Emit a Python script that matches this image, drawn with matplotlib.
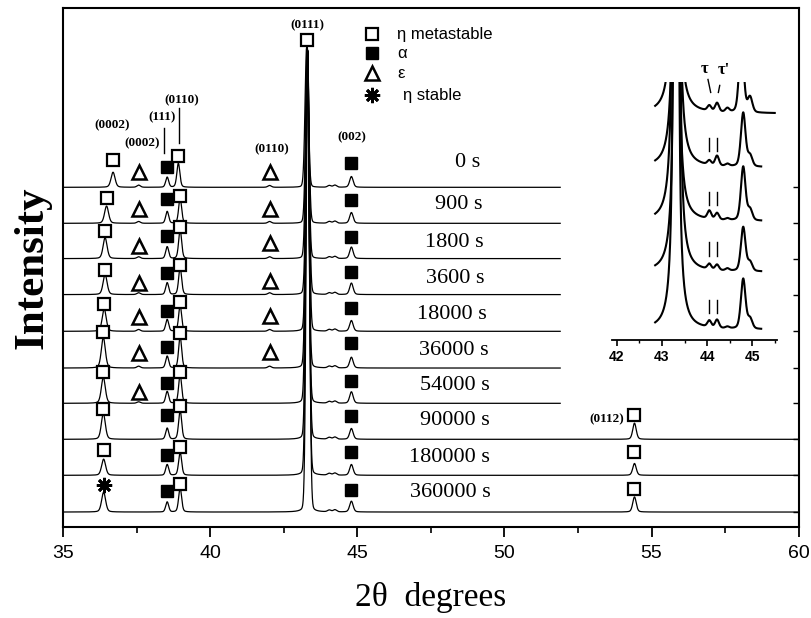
import numpy as np
import matplotlib.pyplot as plt
from matplotlib.ticker import MultipleLocator

# ---- data ----
times = ['0 s', '900 s', '1800 s', '3600 s', '18000 s', '36000 s',
         '54000 s', '90000 s', '180000 s', '360000 s']
baselines = [9.44, 8.44, 7.46, 6.46, 5.44, 4.42, 3.44, 2.44, 1.44, 0.42]
x_end = [51.9, 51.9, 51.9, 51.9, 51.9, 51.9, 51.9, 60.0, 60.0, 60.0]
label_x = [48.74, 48.44, 48.30, 48.33, 48.23, 48.27, 48.30, 48.33, 48.13, 48.16]
label_dy = [0.70, 0.53, 0.46, 0.46, 0.48, 0.50, 0.50, 0.53, 0.50, 0.55]

# eta metastable (0002)
eta0002_x = [36.70, 36.48, 36.43, 36.43, 36.40, 36.37, 36.37, 36.37, 36.38, 36.38]
eta0002_h = [0.42, 0.48, 0.58, 0.56, 0.62, 0.85, 0.72, 0.72, 0.45, 0.55]
eta0002_m = [0.75, 0.69, 0.78, 0.69, 0.75, 1.00, 0.86, 0.83, 0.69, 0.75]
# epsilon (0002)
eps0002_x = 37.57
eps0002_h = [0.06, 0.05, 0.05, 0.05, 0.05, 0.05, 0.04, 0.0, 0.0, 0.0]
eps0002_m = [0.42, 0.39, 0.36, 0.33, 0.39, 0.42, 0.31]
# alpha (111)
a111_x = 38.54
a111_h = [0.28, 0.33, 0.33, 0.33, 0.33, 0.33, 0.33, 0.31, 0.30, 0.28]
a111_m = [0.56, 0.67, 0.64, 0.61, 0.56, 0.58, 0.56, 0.67, 0.56, 0.58]
# eta metastable (0110)
eta0110_x = [38.92, 38.98, 38.98, 38.98, 38.98, 38.98, 38.98, 38.98, 38.98, 38.98]
eta0110_h = [0.67, 0.70, 0.80, 0.75, 0.72, 0.88, 0.80, 0.82, 0.65, 0.67]
eta0110_m = [0.86, 0.75, 0.89, 0.83, 0.81, 0.97, 0.86, 0.92, 0.78, 0.78]
# epsilon (0110)
eps0110_x = 42.02
eps0110_h = [0.05, 0.05, 0.05, 0.05, 0.05, 0.05, 0.0, 0.0, 0.0, 0.0]
eps0110_m = [0.42, 0.39, 0.42, 0.39, 0.42, 0.44]
# eta metastable (0111) main peak
eta0111_x = [43.28, 43.30, 43.30, 43.31, 43.31, 43.30, 43.30, 43.31, 43.31, 43.32]
eta0111_h = [3.9, 4.9, 5.8, 6.8, 7.8, 8.8, 9.8, 10.8, 11.8, 12.8]
# tau, tau'
tau_x = [44.05, 44.24]
tau_h = [0.05, 0.06]
# alpha (002)
a002_x = 44.80
a002_h = [0.30, 0.30, 0.32, 0.32, 0.30, 0.30, 0.32, 0.30, 0.30, 0.30]
a002_m = [0.67, 0.64, 0.61, 0.64, 0.64, 0.69, 0.61, 0.64, 0.64, 0.61]
# eta metastable (0112), last three traces
eta0112_x = 54.42
eta0112_h = [0.45, 0.33, 0.42]
eta0112_m = [0.67, 0.64, 0.64]

# inset (42-45.5 degrees, enlarged)
in_base = [4.20, 3.20, 2.20, 1.26, 0.19]
in_start = [42.85, 42.85, 42.85, 42.85, 42.85]
in_end = [45.50, 45.20, 45.20, 45.20, 45.20]
in_main_x = [43.30, 43.32, 43.30, 43.33, 43.31]
in_tau_h = [0.10, 0.08, 0.15, 0.10, 0.12]
in_taup_h = [0.16, 0.18, 0.12, 0.10, 0.15]
in_small_h = [0.07, 0.04, 0.03, 0.04, 0.03]
in_a_x = [44.76, 44.80, 44.80, 44.80, 44.80]
in_a_h = [1.40, 1.00, 1.00, 0.82, 0.93]


def peak(x, c, h, w=0.07, eta=0.2):
    g = np.exp(-np.log(2) * ((x - c) / w) ** 2)
    l = 1.0 / (1.0 + ((x - c) / w) ** 2)
    return h * ((1 - eta) * g + eta * l)


fig = plt.figure(figsize=(8.12, 6.18), dpi=100)
ax = fig.add_axes([0.0776, 0.147, 0.906, 0.840])
ax.set_xlim(35, 60)
ax.set_ylim(0, 14.42)

for k in range(10):
    x = np.arange(35, x_end[k], 0.005)
    y = np.full_like(x, baselines[k])
    y += peak(x, eta0002_x[k], eta0002_h[k], 0.08, 0.3)
    y += peak(x, eps0002_x, eps0002_h[k])
    y += peak(x, a111_x, a111_h[k], 0.06)
    y += peak(x, eta0110_x[k], eta0110_h[k], 0.06, 0.3)
    y += peak(x, eps0110_x, eps0110_h[k])
    y += peak(x, eta0111_x[k], eta0111_h[k], 0.065, 0.08)
    for tx, th in zip(tau_x, tau_h):
        y += peak(x, tx, th)
    y += peak(x, a002_x, a002_h[k], 0.07, 0.3)
    if k >= 7:
        y += peak(x, eta0112_x, eta0112_h[k - 7], 0.07, 0.3)
    ax.plot(x, y, color='black', lw=0.9)

# markers
sq = dict(marker='s', ms=9, mfc='white', mec='black', mew=1.6, ls='none')
fs = dict(marker='s', ms=9, mfc='black', mec='black', ls='none')
tr = dict(marker='^', ms=10, mfc='white', mec='black', mew=1.8, ls='none')
st = dict(marker=(8, 2, 0), ms=11, color='black', mew=2.0, ls='none')

for k in range(10):
    b = baselines[k]
    ax.plot(eta0002_x[k], b + eta0002_m[k], **(sq if k < 9 else st))
    if k < len(eps0002_m):
        ax.plot(eps0002_x, b + eps0002_m[k], **tr)
    ax.plot(a111_x, b + a111_m[k], **fs)
    ax.plot(eta0110_x[k], b + eta0110_m[k], **sq)
    if k < len(eps0110_m):
        ax.plot(eps0110_x, b + eps0110_m[k], **tr)
    ax.plot(a002_x, b + a002_m[k], **fs)
    if k >= 7:
        ax.plot(eta0112_x, b + eta0112_m[k - 7], **sq)
    ax.text(label_x[k], b + label_dy[k], times[k], ha='center', va='center',
            fontsize=16, family='Liberation Serif')

ax.plot(43.3, 13.53, **sq)

# hkl labels
lab = dict(fontsize=9.5, fontweight='bold', family='Liberation Serif', ha='center', va='center')
ax.text(36.67, 11.17, '(0002)', **lab)
ax.text(37.69, 10.67, '(0002)', **lab)
ax.text(38.37, 11.39, '(111)', **lab)
ax.text(39.05, 11.86, '(0110)', **lab)
ax.text(42.10, 10.50, '(0110)', **lab)
ax.text(43.30, 13.94, '(0111)', **lab)
ax.text(44.83, 10.83, '(002)', **lab)
ax.text(53.47, 3.00, '(0112)', **lab)
ax.plot([38.44, 38.44], [10.39, 11.08], color='black', lw=1.0)
ax.plot([38.95, 38.95], [10.67, 11.64], color='black', lw=1.0)

# legend drawn by hand
leg_y = [13.69, 13.17, 12.61, 12.0]
leg_txt = ['\u03b7 metastable', '\u03b1', '\u03b5', '\u03b7 stable']
for yy, mk in zip(leg_y, [sq, fs, tr, st]):
    ax.plot(45.51, yy, **mk)
for yy, t, dx in zip(leg_y, leg_txt, [46.35, 46.35, 46.35, 46.55]):
    ax.text(dx, yy, t, fontsize=12, family='Liberation Sans', va='center')

# axes styling
for s in ax.spines.values():
    s.set_linewidth(1.5)
ax.xaxis.set_major_locator(MultipleLocator(5))
ax.xaxis.set_minor_locator(MultipleLocator(2.5))
ax.tick_params(axis='x', which='major', direction='out', length=7, width=1.3,
               labelsize=14, pad=6)
ax.tick_params(axis='x', which='minor', direction='out', length=4, width=1.2)
for t in ax.get_xticklabels():
    t.set_family('Liberation Sans')
ax.set_yticks(baselines)
ax.tick_params(axis='y', left=False, right=True, labelleft=False, direction='in',
               length=4, width=1.0)
ax.set_xlabel('2\u03b8  degrees', fontsize=24, family='Liberation Serif', labelpad=14)
ax.set_ylabel('Intensity', fontsize=31, fontweight='bold', family='Liberation Serif',
              labelpad=8)

# inset
ins = fig.add_axes([0.754, 0.450, 0.203, 0.417])
ins.set_facecolor('none')
ins.set_xlim(41.9, 45.55)
ins.set_ylim(0, 4.78)
for k in range(5):
    x = np.arange(in_start[k], in_end[k], 0.004)
    y = np.full_like(x, in_base[k])
    y += peak(x, in_main_x[k], 30.0, 0.04, 0.6)
    y += peak(x, 44.05, in_tau_h[k], 0.05, 0.2)
    y += peak(x, 44.22, in_taup_h[k], 0.05, 0.2)
    y += peak(x, 44.45, in_small_h[k], 0.05, 0.2)
    y += peak(x, in_a_x[k], in_a_h[k], 0.06, 0.3)
    y += peak(x, 44.95, in_a_h[k] * 0.2, 0.06, 0.2)
    ins.plot(x, y, color='black', lw=1.5)
    if k > 0:
        for tx in [44.05, 44.22]:
            ins.plot([tx, tx], [in_base[k] + 0.30, in_base[k] + 0.55], color='black', lw=1.0)
ins.plot([44.02, 44.08], [4.83, 4.59], color='black', lw=1.0, clip_on=False)
ins.plot([44.28, 44.25], [4.72, 4.59], color='black', lw=1.0, clip_on=False)
ins.text(43.95, 5.03, '\u03c4', fontsize=12, fontweight='bold', family='Liberation Serif',
         ha='center', va='center')
ins.text(44.38, 5.0, "\u03c4'", fontsize=12, fontweight='bold', family='Liberation Serif',
         ha='center', va='center')
for side in ['top', 'left', 'right']:
    ins.spines[side].set_visible(False)
ins.spines['bottom'].set_linewidth(1.3)
ins.set_yticks([])
ins.xaxis.set_major_locator(MultipleLocator(1))
ins.xaxis.set_minor_locator(MultipleLocator(0.5))
ins.tick_params(axis='x', which='major', direction='out', length=4, width=1.2,
                labelsize=10, pad=3)
ins.tick_params(axis='x', which='minor', direction='out', length=2.5, width=1.0)
for t in ins.get_xticklabels():
    t.set_family('Liberation Sans')
    t.set_fontweight('bold')

fig.savefig('out.png', dpi=100)
